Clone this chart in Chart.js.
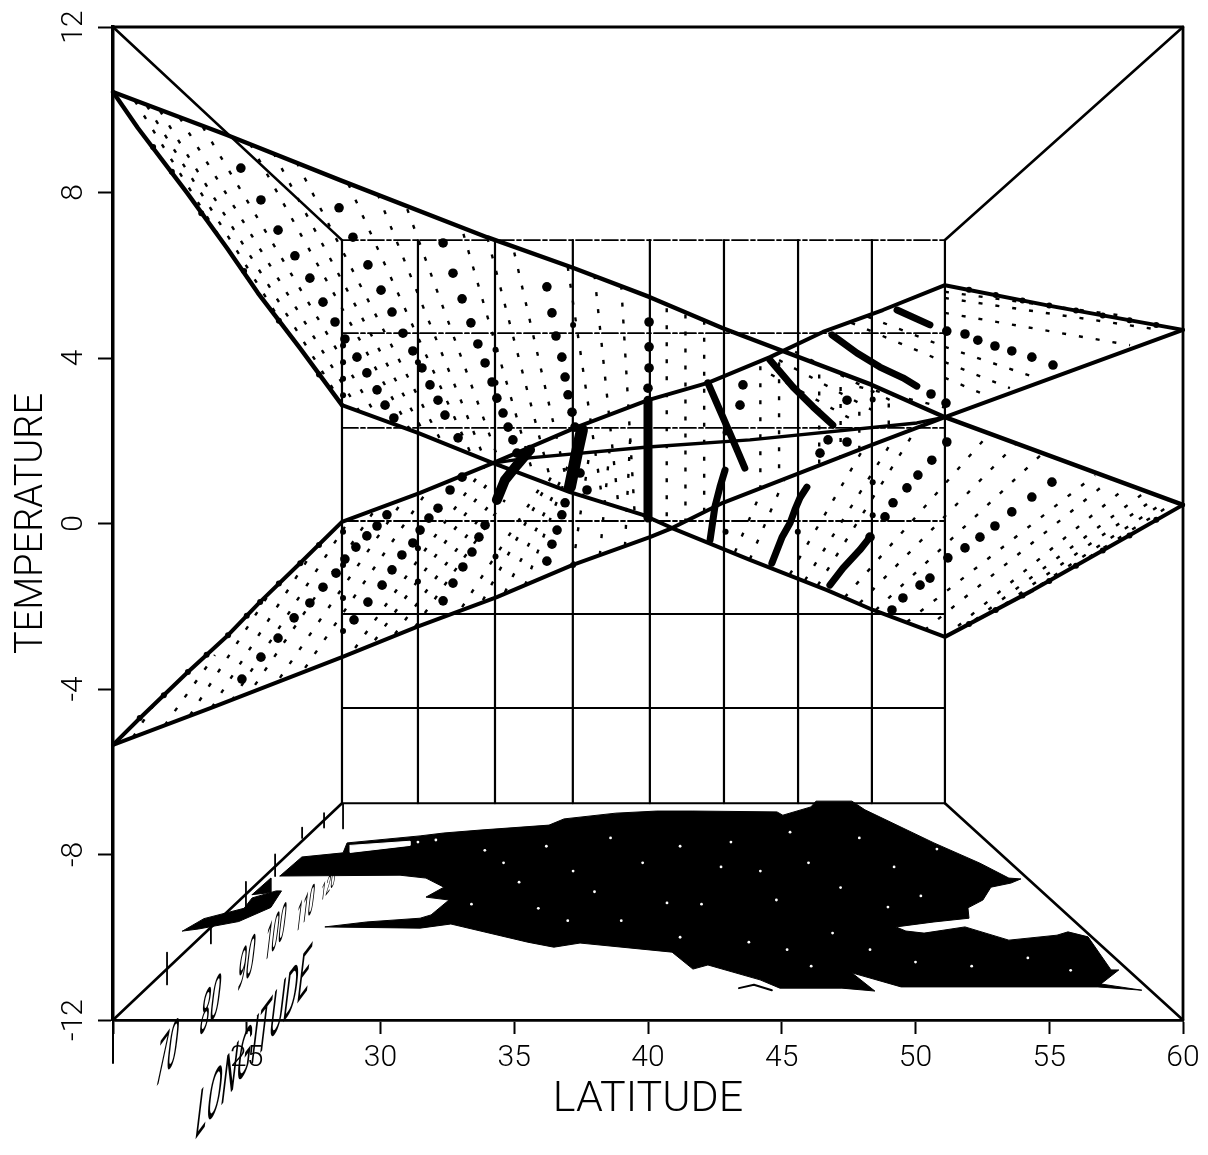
<!DOCTYPE html>
<html><head><meta charset="utf-8">
<style>html,body{margin:0;padding:0;background:#fff}canvas{display:block}</style>
<script src="https://cdn.jsdelivr.net/npm/chart.js@4"></script>
</head><body><canvas id="c" width="1208" height="1155"></canvas>
<script>
const xTicks=[20,25,30,35,40,45,50,55,60];
const yTicks=[-12,-8,-4,0,4,8,12];
const wallLat=[28.56,31.40,34.28,37.19,40.07,42.84,45.61,48.37,51.10];
const wallTempDashed=[6.85,4.60,2.31,0.06];
const wallTempSolid=[-2.19,-4.46,-6.76];
const longitudeLabels=['70','80','90','100','110','120'];
const longitudeLat=[22.02,23.63,24.97,26.06,27.18,28.04];
const longitudeTemp=[-12.92,-11.76,-10.74,-9.99,-9.39,-8.79];

const frame=[[20,12],[60,12],[60,-12]];
const leftDrop=[[20,-12],[20,-13.04]];
const corners=[[[20,12],[28.56,6.85]],[[60,12],[51.10,6.85]],[[20,-12],[28.56,-6.76]],[[60,-12],[51.10,-6.76]]];
const floorTicks=[[22.02,-10.37,22.02,-11.14],[23.66,-9.62,23.66,-10.15],[24.97,-8.66,24.97,-9.31],[26.06,-8.0,26.06,-8.52],[27.07,-7.35,27.07,-7.6],[27.89,-7.0,27.89,-7.35],[28.6,-6.78,28.6,-7.37]];

const topEdge=[[20,10.43],[24.26,9.39],[28.49,8.30],[33.98,6.92],[37.19,6.18],[40.07,5.47],[42.80,4.72],[48.37,3.35],[51.10,2.57],[60,0.45]];
const leftLower=[[20,10.43],[20.93,9.56],[22.77,7.99],[24.26,6.66],[25.42,5.57],[26.99,4.24],[28.56,2.86]];
const midLower=[[28.56,2.86],[31.40,2.19],[34.09,1.49],[37.08,0.76],[39.81,0.21],[40.90,-0.11],[43.81,-0.88],[46.69,-1.61],[48.41,-2.09],[51.10,-2.74],[54.39,-1.61],[58.02,-0.28],[60,0.45]];
const lowTop=[[20,-5.35],[21.01,-4.70],[22.80,-3.59],[24.30,-2.70],[25.49,-1.90],[26.99,-0.96],[28.56,0.04],[31.48,0.74],[34.20,1.46],[37.34,2.33],[40.00,2.98],[42.24,3.40],[44.56,4.02],[46.54,4.63],[48.78,5.16],[51.10,5.76],[55.03,5.26],[60,4.68]];
const lowBottom=[[20,-5.35],[23.74,-4.44],[28.56,-3.23],[31.36,-2.50],[34.35,-1.78],[37.19,-1.00],[40.07,-0.33],[40.90,-0.11],[42.80,0.50],[48.37,1.90],[51.10,2.57],[60,4.68]];
const midLine=[[34.20,1.46],[35.48,1.58],[40.00,1.85],[43.81,2.02],[50.05,2.43],[51.10,2.57]];

const edgeLumps=[[21.5,9.1],[22.2,8.5],[23.3,7.5],[24.9,6.1],[26.2,4.9],[27.7,3.6],
[52,-2.43],[53,-2.09],[54,-1.74],[55,-1.39],[56,-1.02],[57,-0.65],[58,-0.29],[59,0.09],
[52,5.65],[53,5.52],[54,5.39],[55,5.27],[56,5.15],[57,5.03],[58,4.91],[59,4.8],
[21,-4.7],[21.9,-4.15],[22.8,-3.59],[23.5,-3.17],[24.3,-2.7],[25,-2.23],[25.5,-1.9],[26.2,-1.45],[27,-0.96],[27.7,-0.52]];

const heavyDots=[
[24.78,8.59],[25.53,7.82],[26.17,7.09],[26.80,6.47],[27.36,5.93],[27.85,5.35],[28.30,4.87],[28.67,4.46],[29.12,4.02],[29.49,3.64],[29.87,3.23],[30.17,2.86],[30.50,2.55],
[28.45,7.63],[28.97,6.92],[29.53,6.25],[30.02,5.64],[30.43,5.11],[30.84,4.60],[31.21,4.17],[31.55,3.76],[31.85,3.35],[32.15,2.98],[32.41,2.62],[32.90,2.07],
[32.34,6.78],[32.71,6.05],[33.05,5.43],[33.38,4.85],[33.64,4.34],[33.91,3.88],[34.17,3.42],[34.35,3.03],[34.58,2.67],[34.77,2.33],[34.95,2.02],[35.10,1.70],
[36.22,5.72],[36.41,5.09],[36.56,4.53],[36.78,4.02],[36.90,3.54],[37.01,3.11],[37.16,2.69],[37.27,2.33],[37.38,1.85],[37.46,1.22],[37.72,0.81],
[40.04,4.87],[40.04,4.27],[40.04,3.76],[40.00,3.27],
[46.73,2.02],[47.44,1.97],[46.43,1.70],[43.55,3.35],[43.44,2.86],[47.44,2.98],
[50.58,3.13],[51.14,2.91],
[51.17,4.65],[51.85,4.58],[52.33,4.43],[52.97,4.29],[53.60,4.17],[54.35,4.02],[55.14,3.83],
[49.12,-2.09],[49.53,-1.80],[50.17,-1.49],[50.54,-1.32],[51.21,-0.83],[51.85,-0.59],[52.41,-0.33],[52.97,-0.06],[53.60,0.28],[54.35,0.64],[55.10,1.00],
[48.30,-0.33],[48.86,0.16],[49.16,0.50],[49.68,0.86],[50.09,1.17],[50.61,1.53],[51.17,1.97],
[24.82,-3.76],[25.53,-3.23],[26.17,-2.77],[26.77,-2.28],[27.36,-1.92],[27.85,-1.54],[28.34,-1.20],[28.67,-0.86],[29.08,-0.57],[29.49,-0.30],[29.87,-0.06],[30.24,0.21],
[29.01,-2.33],[29.53,-1.90],[30.06,-1.49],[30.43,-1.12],[30.80,-0.76],[31.21,-0.47],[31.48,-0.16],[31.81,0.13],[32.15,0.37],[32.60,0.81],[33.05,1.12],
[32.34,-1.87],[32.71,-1.44],[33.08,-1.05],[33.42,-0.69],[33.68,-0.33],[33.91,-0.04],
[36.22,-0.91],[36.41,-0.50],[36.60,-0.16],[36.78,0.21],[36.90,0.50]
];
const wallLumps=[[28.6,4.3],[28.6,3.9],[28.6,3.5],[28.6,3.1],[28.6,-0.2],[28.6,-1.0],[28.6,-1.8],[28.6,-2.6],[31.4,3.9],[31.4,-0.6],[31.4,-1.4],[34.3,4.2],[34.3,3.4],[34.3,-0.8],[37.2,4.8],[37.2,-1.0],[48.4,3.0],[48.4,1.0],[48.4,0.2],[42.9,2.2],[42.9,-0.2],[45.6,-0.2]];
const heavy1=[[40.00,2.98],[40.00,0.13]];
const heavy2=[[42.24,3.40],[42.80,2.57],[43.33,1.78],[43.62,1.34]];
const heavy3=[[42.88,1.29],[42.69,0.88],[42.50,0.40],[42.32,-0.40]];
const heavy4=[[44.56,3.95],[45.42,3.30],[46.17,2.82],[46.91,2.38]];
const heavy5=[[46.88,4.56],[47.81,4.12],[48.67,3.78],[49.53,3.52],[50.05,3.32]];
const heavy6=[[49.31,5.16],[50.54,4.80]];
const heavy7=[[44.63,-0.96],[45.01,-0.33],[45.31,0.01],[45.49,0.33],[45.68,0.62],[45.94,0.88]];
const heavy8=[[46.80,-1.49],[47.29,-1.08],[47.92,-0.64],[48.30,-0.33]];
const heavy9=[[37.08,0.88],[37.34,1.70],[37.53,2.26]];
const heavy10=[[34.35,0.57],[34.65,1.05],[35.10,1.41],[35.59,1.78]];

const fineLines=[
[20.82,10.21,24.22,6.68],[21.27,10.09,26.24,4.92],[21.76,9.97,28.49,2.98],[22.5,9.8,29.23,2.69],[23.36,9.58,29.9,2.55],
[25.13,9.17,31.1,2.27],[26.0,8.95,31.7,2.1],[26.87,8.72,32.3,1.95],[28.8,8.2,33.4,1.66],[29.9,7.95,33.9,1.54],[31.0,7.6,34.5,1.39],
[33.1,7.0,35.75,1.1],[34.0,6.9,36.4,0.95],[35.0,6.55,37.05,0.77],[37.0,6.2,38.3,0.55],[38.0,6.0,38.9,0.4],[39.0,5.75,39.5,0.25],
[40.7,5.2,40.7,0.05],[41.4,5.05,41.4,0.05],[42.1,4.9,42.1,0.25],[44.2,3.8,44.2,0.8],[44.9,3.9,44.9,1.0],[46.4,3.6,46.4,1.4],[47.2,3.3,47.2,1.6],[47.9,2.7,47.9,1.8],[49.0,2.9,49.0,2.4],
[51.1,5.6,58.0,5.0],[51.1,5.45,59.14,4.68],[51.1,5.09,58.02,4.31],[55.14,3.83,55.77,3.66],[51.1,4.27,54.65,3.49],[51.1,3.90,53.53,3.27],[51.1,3.52,52.6,3.11],
[47.6,4.85,51.1,3.9],[48.2,5.0,51.1,4.27],[45.5,4.15,49.3,2.9],[44.9,3.95,48.5,2.7],[44.6,3.6,47.8,2.45],[47.9,3.3,51.1,2.8],
[49.68,-2.38,56.71,1.17],[50.35,-2.57,57.27,1.05],[51.1,-2.74,57.94,0.91],[52.22,-2.33,58.58,0.76],[53.34,-1.95,59.02,0.64],[54.65,-1.49,59.44,0.57],[55.96,-1.03,59.59,0.47],
[47.36,-1.78,52.78,2.19],[47.92,-1.92,53.72,1.90],[48.52,-2.09,54.76,1.70],
[45.31,-1.22,48.0,1.75],[45.87,-1.37,49.16,2.02],[46.35,-1.49,50.05,2.31],
[43.25,-0.69,44.26,0.81],[43.81,-0.86,45.12,1.10],
[20.75,-5.16,21.76,-4.15],[21.94,-4.87,23.81,-3.18],[22.88,-4.63,25.79,-1.75],[23.7,-4.44,27.44,-0.71],[24.45,-4.27,28.67,-0.08],
[25.31,-3.9,29.79,0.33],[26.24,-3.73,30.91,0.62],[27.18,-3.49,31.85,0.88],
[29.05,-3.01,33.91,1.39],[29.79,-2.82,34.09,1.05],[30.54,-2.67,34.47,0.81],[31.29,-2.5,34.65,0.57],
[33.05,-2.02,36.15,1.05],[33.83,-1.85,36.52,1.29],[34.65,-1.66,37.08,1.49],[35.40,-1.49,36.90,1.05],
[37.19,-1.0,37.83,1.78],[38.20,-0.76,38.58,1.90],[39.14,-0.54,39.33,2.02]
];

const land=[[26.24,-8.52],[27.06,-8.06],[28.60,-7.96],[28.75,-7.72],[31.48,-7.55],[32.37,-7.48],[33.72,-7.41],[36.30,-7.29],[36.86,-7.14],[38.80,-7.00],[40.33,-6.95],[41.68,-6.95],[44.82,-6.97],[45.04,-7.05],[46.09,-6.85],[46.28,-6.71],[47.62,-6.71],[48.11,-6.92],[50.69,-7.72],[52.41,-8.21],[53.49,-8.57],[53.94,-8.59],[53.57,-8.69],[52.82,-8.79],[52.52,-9.10],[51.96,-9.29],[52.00,-9.54],[50.69,-9.63],[49.27,-9.75],[49.64,-9.85],[50.32,-9.90],[51.85,-9.75],[53.49,-10.07],[55.29,-9.95],[55.70,-9.87],[56.45,-9.99],[57.31,-10.79],[57.60,-10.79],[56.93,-11.13],[58.46,-11.28],[56.82,-11.20],[49.46,-11.20],[47.62,-10.86],[48.48,-11.30],[47.25,-11.23],[44.93,-11.23],[44.19,-11.03],[42.24,-10.67],[41.68,-10.77],[40.90,-10.36],[37.46,-10.14],[36.48,-10.24],[35.51,-10.12],[32.63,-9.68],[31.48,-9.78],[27.92,-9.75],[29.49,-9.63],[31.48,-9.54],[31.89,-9.46],[32.56,-9.10],[31.70,-9.03],[32.37,-8.79],[31.70,-8.57],[30.73,-8.50],[26.24,-8.52]];
const landWest=[[22.6,-9.85],[23.4,-9.55],[24.9,-9.3],[25.2,-9.05],[26.1,-8.88],[26.3,-8.88],[25.9,-9.28],[24.7,-9.62],[23.2,-9.8],[22.6,-9.85]];
const landSpot=[[25.2,-8.97],[25.9,-8.57],[25.9,-8.92],[25.2,-8.97]];
const landGap=[[28.86,-7.78],[31.1,-7.68],[31.1,-7.78],[28.86,-7.95],[28.86,-7.78]];
const landTail=[[43.40,-11.23],[43.96,-11.15],[44.63,-11.28]];
const landSpecks=[[42.73,-8.30],[40.71,-9.17],[35.18,-8.67],[43.77,-10.12],[50.80,-7.87],[45.31,-7.46],[48.97,-9.27],[31.40,-7.70],[32.07,-7.65],[44.2,-8.4],[38.0,-8.9],[47.2,-8.8],[46.1,-10.7],[39.0,-9.6],[33.9,-7.9],
[34.6,-8.2],[36.2,-7.8],[37.2,-8.4],[38.6,-7.6],[39.8,-8.2],[41.2,-7.8],[42.0,-9.2],[43.1,-7.7],[44.8,-9.1],[46.0,-8.2],[47.9,-7.6],[49.2,-8.3],[50.2,-9.0],[45.2,-10.3],[46.9,-9.9],[48.3,-10.3],[50.0,-10.6],[52.1,-10.7],[54.2,-10.5],[55.8,-10.8],[37.0,-9.6],[41.2,-10.0],[33.4,-9.2],[35.9,-9.3]];

const pts=a=>a.map(p=>({x:p[0],y:p[1]}));
const line=(a,w,extra)=>Object.assign({data:pts(a),showLine:true,borderColor:'#000',borderWidth:w,pointRadius:0,fill:false,clip:false,borderCapStyle:'round',borderJoinStyle:'round'},extra||{});
const dots=(a,r,c)=>({data:pts(a),showLine:false,pointRadius:r,pointBackgroundColor:c||'#000',pointBorderWidth:0,clip:false});

const datasets=[];
datasets.push(dots(landSpecks,1.4,'#fff'));
datasets.push(line(landGap,1,{fill:'shape',backgroundColor:'#fff',borderColor:'#fff'}));
datasets.push(line(land,1,{fill:'shape',backgroundColor:'#000'}));
datasets.push(line(landWest,1,{fill:'shape',backgroundColor:'#000'}));
datasets.push(line(landSpot,1,{fill:'shape',backgroundColor:'#000'}));
datasets.push(line(landTail,2));
[topEdge,leftLower].forEach(a=>datasets.push(line(a,4.4)));
[midLower,lowTop,lowBottom].forEach(a=>datasets.push(line(a,4)));
datasets.push(line(midLine,3.4));
datasets.push(dots(edgeLumps,3));
datasets.push(dots(heavyDots,4.8));
datasets.push(dots(wallLumps,3));
datasets.push(line(heavy1,9));
[heavy2,heavy3,heavy4,heavy5,heavy6,heavy7,heavy8].forEach(a=>datasets.push(line(a,7)));
datasets.push(line(heavy9,12));datasets.push(line(heavy10,10));
fineLines.forEach(l=>datasets.push(line([[l[0],l[1]],[l[2],l[3]]],2.4,{borderDash:[4,13],borderCapStyle:'butt'})));
corners.forEach(c=>datasets.push(line(c,2.6)));
floorTicks.forEach(l=>datasets.push(line([[l[0],l[1]],[l[2],l[3]]],1.8)));
wallLat.forEach(x=>datasets.push(line([[x,6.85],[x,-6.76]],2.2)));
wallTempDashed.forEach(y=>datasets.push(line([[28.56,y],[51.10,y]],1.8,{borderDash:[16,3,4,3]})));
wallTempSolid.forEach(y=>datasets.push(line([[28.56,y],[51.10,y]],2)));
datasets.push(line(frame,2.8));
datasets.push(line(leftDrop,2));

const floorText={
 id:'floorText',
 afterDatasetsDraw(ch){
  const {ctx,scales:{x,y}}=ch;
  const put=(t,lat,temp,w,h,ux,uy,vx,vy)=>{
    ctx.save();
    ctx.font='400 30px Roboto';ctx.fillStyle='#000';ctx.textAlign='center';ctx.textBaseline='middle';
    const sx=w/ctx.measureText(t).width,sy=h/21.5;
    ctx.setTransform(ux*sx,uy*sx,-vx*sy,-vy*sy,x.getPixelForValue(lat),y.getPixelForValue(temp));
    ctx.fillText(t,0,0);ctx.restore();
  };
  const size=[[36,48],[34,44],[28,42],[34,38],[30,30],[24,18]];
  longitudeLabels.forEach((t,i)=>put(t,longitudeLat[i],longitudeTemp[i],size[i][0],size[i][1],0.6,-0.8,0.12,-1));
  put('LONGITUDE',25.23,-12.68,190,50,0.6,-0.8,0.12,-1);
 }
};

new Chart(document.getElementById('c'),{
 type:'scatter',
 data:{datasets},
 options:{
  responsive:false,animation:false,events:[],
  layout:{padding:{top:27,right:25,left:0,bottom:0}},
  plugins:{legend:{display:false},tooltip:{enabled:false},title:{display:false}},
  scales:{
   x:{type:'linear',min:20,max:60,
      afterBuildTicks(s){s.ticks=xTicks.map(v=>({value:v}));},
      afterFit(s){s.height=135;},
      grid:{drawOnChartArea:false,drawTicks:true,tickLength:14,tickColor:'#000',tickWidth:2,color:'#000'},
      border:{color:'#000',width:2.8},
      ticks:{color:'#000',autoSkip:false,maxRotation:0,minRotation:0,padding:6,font:{family:'Roboto',size:30,weight:'300'},callback:v=>v===20?'':String(v)},
      title:{display:true,text:'LATITUDE',color:'#000',font:{family:'Roboto',size:43,weight:'300'},padding:{top:0,bottom:29}}},
   y:{type:'linear',min:-12,max:12,
      afterBuildTicks(s){s.ticks=yTicks.map(v=>({value:v}));},
      afterFit(s){s.width=113;},
      grid:{drawOnChartArea:false,drawTicks:true,tickLength:15,tickColor:'#000',tickWidth:2,color:'#000'},
      border:{color:'#000',width:3.5},
      ticks:{color:'#000',autoSkip:false,minRotation:90,maxRotation:90,crossAlign:'center',padding:3,font:{family:'Roboto',size:30,weight:'300'},callback:v=>String(v)},
      title:{display:true,text:'TEMPERATURE',color:'#000',font:{family:'Roboto',size:38,weight:'300'},padding:{top:10,bottom:0}}}
  }
 },
 plugins:[floorText]
});
</script></body></html>
